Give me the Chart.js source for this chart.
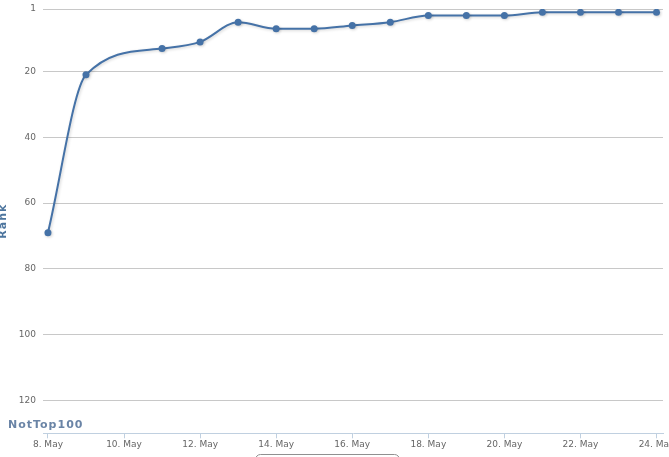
<!DOCTYPE html>
<html><head><meta charset="utf-8">
<script src="https://cdn.jsdelivr.net/npm/chart.js@4/dist/chart.umd.min.js"></script>
<style>html,body{margin:0;padding:0;background:#fff;overflow:hidden}#wrap{width:669px;height:457px;position:relative}</style>
</head><body><div id="wrap"><canvas id="c"></canvas></div>
<script>
const days = [8, 9, 11, 12, 13, 14, 15, 16, 17, 18, 19, 20, 21, 22, 23, 24];
const ranks = [69, 21, 13, 11, 5, 7, 7, 6, 5, 3, 3, 3, 2, 2, 2, 2];
const xTicks = [8, 10, 12, 14, 16, 18, 20, 22, 24];
const yTicks = [1, 20, 40, 60, 80, 100, 120];
const monthLabel = 'May';
const seriesName = 'Rank';
const bottomLabel = 'NotTop100';

const FONT = 'DejaVu Sans';
const extras = {
  id: 'extras',
  beforeDatasetsDraw(chart) {
    const ctx = chart.ctx;
    ctx.save();
    ctx.shadowColor = 'rgba(0,0,0,0.18)';
    ctx.shadowBlur = 3;
    ctx.shadowOffsetX = 1;
    ctx.shadowOffsetY = 1;
  },
  afterDatasetsDraw(chart) {
    chart.ctx.restore();
  },
  afterDraw(chart) {
    const ctx = chart.ctx;
    const a = chart.chartArea;
    ctx.save();
    ctx.fillStyle = '#4d759e';
    ctx.font = 'bold 11px ' + FONT;
    ctx.letterSpacing = '1px';
    ctx.translate(3, (a.top + a.bottom) / 2);
    ctx.rotate(-Math.PI / 2);
    ctx.textAlign = 'center';
    ctx.textBaseline = 'middle';
    ctx.fillText(seriesName, 0, 0);
    ctx.restore();

    ctx.save();
    ctx.fillStyle = '#6a84a6';
    ctx.font = 'bold 11px ' + FONT;
    ctx.letterSpacing = '1px';
    ctx.textAlign = 'left';
    ctx.textBaseline = 'middle';
    ctx.fillText(bottomLabel, 8, 425);
    ctx.restore();

    ctx.save();
    ctx.strokeStyle = '#909090';
    ctx.lineWidth = 1;
    ctx.beginPath();
    if (ctx.roundRect) ctx.roundRect(255.5, 454.5, 144, 20, 5); else ctx.rect(255.5, 454.5, 144, 20);
    ctx.stroke();
    ctx.restore();
  }
};

new Chart(document.getElementById('c'), {
  type: 'line',
  data: {
    datasets: [{
      label: seriesName,
      data: days.map((d, i) => ({ x: d, y: ranks[i] })),
      borderColor: '#4572A7',
      backgroundColor: '#4572A7',
      borderWidth: 2,
      pointRadius: 3.5,
      pointBorderWidth: 0,
      pointBackgroundColor: '#4572A7',
      cubicInterpolationMode: 'monotone',
      fill: false
    }]
  },
  options: {
    responsive: true,
    maintainAspectRatio: false,
    animation: false,
    layout: { padding: { top: 9, right: 6, left: 0, bottom: 0 } },
    plugins: { legend: { display: false }, tooltip: { enabled: false } },
    scales: {
      x: {
        type: 'linear',
        min: 7.87,
        max: 24.17,
        afterBuildTicks: s => { s.ticks = xTicks.map(v => ({ value: v })); },
        afterFit: s => { s.height = 23.7; s.paddingLeft = 0; s.paddingRight = 0; },
        ticks: {
          callback: v => v + '. ' + monthLabel,
          color: '#666666',
          font: { family: FONT, size: 9 },
          padding: 1,
          maxRotation: 0,
          autoSkip: false
        },
        grid: { drawOnChartArea: false, drawTicks: true, tickLength: 5, color: '#C0D0E0' },
        border: { display: true, color: '#C0D0E0', width: 1 }
      },
      y: {
        reverse: true,
        min: 1,
        max: 130,
        afterBuildTicks: s => { s.ticks = yTicks.map(v => ({ value: v })); },
        afterFit: s => { s.width = 43; s.paddingTop = 0; s.paddingBottom = 0; },
        ticks: {
          color: '#666666',
          font: { family: FONT, size: 9 },
          padding: 7,
          autoSkip: false
        },
        grid: { color: '#C8C8C8', lineWidth: 1, drawTicks: false },
        border: { display: false }
      }
    }
  },
  plugins: [extras]
});
</script></body></html>
